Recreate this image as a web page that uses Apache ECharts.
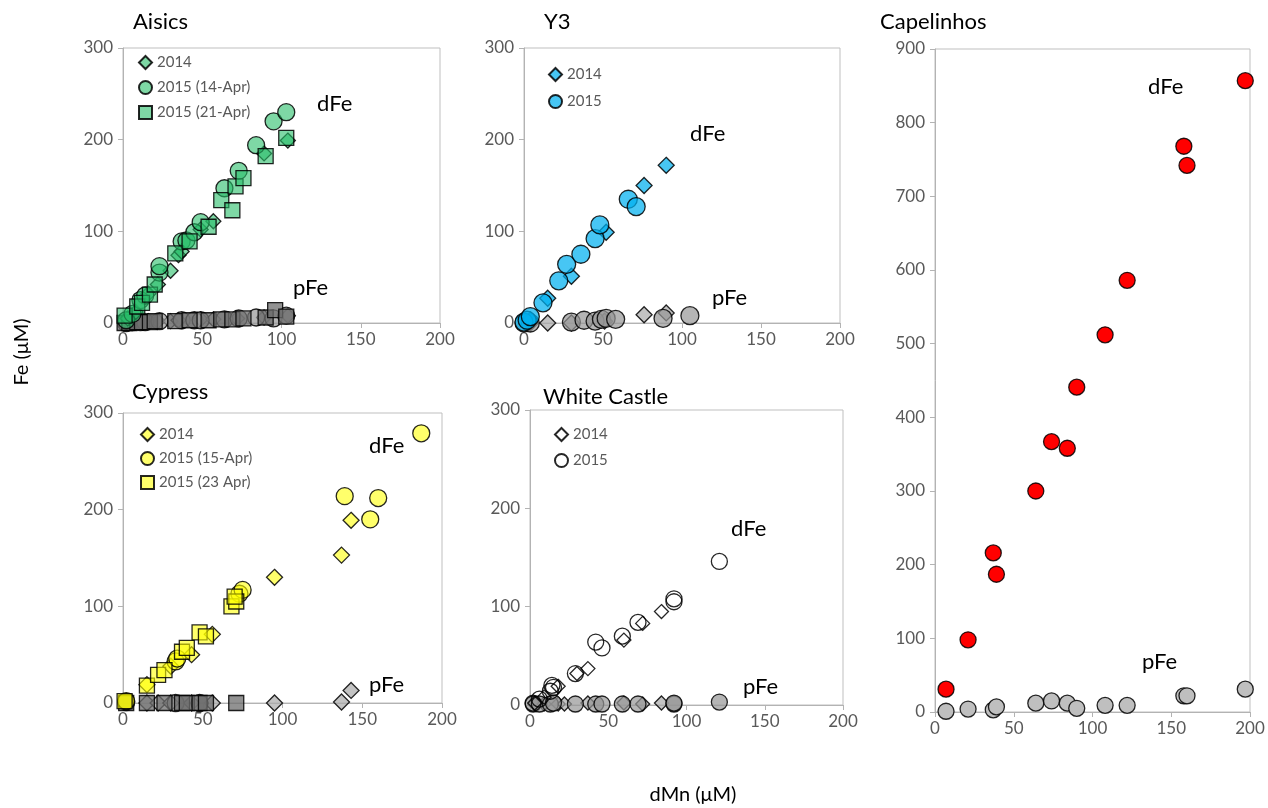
<!DOCTYPE html>
<html>
<head>
<meta charset="utf-8">
<script src="https://cdn.jsdelivr.net/npm/echarts@6/dist/echarts.min.js"></script>
<style>html,body{margin:0;background:#fff}#main{width:1268px;height:808px}</style>
</head>
<body>
<div id="main"></div>
<script>
// Aisics [dMn, Fe]
var aisDFe2014 = [[3,5],[8,12],[16,32],[22,42],[30,57],[35,74],[37,78],[49,102],[57,111],[89,185],[104,199]];
var aisDFe2015a = [[2,3],[6,10],[11,25],[14,30],[23,55],[23,62],[37,89],[40,90],[45,99],[49,110],[64,147],[73,166],[84,194],[95,220],[103,230]];
var aisDFe2015b = [[1,8],[9,18],[12,22],[17,31],[20,42],[33,76],[42,89],[54,105],[62,134],[69,123],[71,149],[76,158],[90,182],[103,202]];
var aisPFe2014 = [[3,1],[8,1],[16,2],[22,2],[30,2],[35,3],[49,4],[57,4],[72,5],[89,6],[104,8]];
var aisPFe2015a = [[2,0],[6,1],[11,1],[14,1],[23,2],[37,3],[45,3],[49,3],[64,4],[73,5],[84,6],[95,5],[103,8]];
var aisPFe2015b = [[1,0],[4,0],[9,1],[12,1],[17,1],[20,2],[33,2],[42,3],[54,3],[62,4],[69,4],[76,5],[90,6],[96,14],[103,7]];

// Y3
var y3DFe2014 = [[4,3],[15,27],[30,51],[52,99],[76,150],[90,172]];
var y3DFe2015 = [[0,1],[2,3],[4,7],[12,22],[22,46],[27,64],[36,75],[45,92],[48,107],[66,135],[71,127]];
var y3PFe2014 = [[4,0],[15,0],[30,0],[51,2],[76,9],[90,11]];
var y3PFe2015 = [[0,0],[4,0],[30,1],[38,3],[45,2],[49,4],[52,5],[58,4],[88,5],[105,8]];

// Cypress
var cypDFe2014 = [[15,19],[30,38],[43,50],[56,71],[95,130],[137,153],[143,189]];
var cypDFe2015a = [[2,2],[33,43],[34,46],[73,113],[75,117],[139,214],[155,190],[160,212],[187,279]];
var cypDFe2015b = [[1,2],[15,18],[22,29],[26,34],[37,53],[40,57],[48,73],[52,69],[68,100],[71,105],[70,110]];
var cypPFe2014 = [[15,0],[22,0],[30,0],[43,0],[56,0],[95,0],[137,1],[143,13]];
var cypPFe2015a = [[2,1],[33,0],[48,0]];
var cypPFe2015b = [[2,0],[15,0],[26,0],[37,0],[40,0],[48,0],[52,0],[71,0]];

// White Castle
var wcDFe2014 = [[3,2],[9,8],[18,19],[30,32],[37,37],[60,66],[72,83],[84,95]];
var wcDFe2015 = [[2,2],[6,6],[13,14],[14,20],[15,18],[29,32],[42,64],[46,58],[59,70],[69,84],[92,105],[92,108],[121,146]];
var wcPFe2014 = [[3,1],[9,1],[18,1],[22,1],[37,2],[60,2],[72,1],[84,2]];
var wcPFe2015 = [[2,1],[6,1],[13,1],[15,2],[29,1],[42,1],[46,1],[59,1],[69,1],[92,1],[92,2],[121,3]];

// Capelinhos
var capDMn = [7,21,37,39,64,74,84,90,108,122,158,160,197];
var capDFe = [31,98,216,187,300,367,358,441,512,586,768,742,857];
var capPFe = [1,4,3,7,12,15,12,5,9,9,22,22,31];

var panels = ['Aisics', 'Y3', 'Cypress', 'White Castle', 'Capelinhos'];
var yMax = [300, 300, 300, 300, 900];

var FONT = 'Lato, "Open Sans", sans-serif';
var grids = [
    { left: 123, top: 48, width: 317, height: 275 },
    { left: 524, top: 48, width: 316, height: 275 },
    { left: 123, top: 413, width: 319, height: 290 },
    { left: 530, top: 410, width: 313, height: 295 },
    { left: 935, top: 49, width: 315, height: 663 }
];

function pairs(xs, ys) {
    return xs.map(function (x, i) { return [x, ys[i]]; });
}

function pt(name, data, gi, symbol, size, fill, z) {
    return {
        name: name,
        type: 'scatter',
        xAxisIndex: gi,
        yAxisIndex: gi,
        symbol: symbol,
        symbolSize: size,
        data: data,
        z: z || 2,
        itemStyle: { color: fill, borderColor: 'rgba(0,0,0,0.85)', borderWidth: 1.3, opacity: 1 },
        emphasis: { disabled: true }
    };
}

var green = 'rgba(40,190,105,0.6)';
var blue = 'rgba(0,176,240,0.72)';
var yellow = 'rgba(255,255,0,0.58)';
var open = 'rgba(255,255,255,0)';
var red = '#ff0000';
var gLight = 'rgba(170,170,170,0.7)';
var gMid = 'rgba(150,150,150,0.7)';
var gDark = 'rgba(110,110,110,0.75)';

var series = [
    pt('A|2014', aisDFe2014, 0, 'diamond', 15, green, 3),
    pt('A|2015 (14-Apr)', aisDFe2015a, 0, 'circle', 17, green, 3),
    pt('A|2015 (21-Apr)', aisDFe2015b, 0, 'rect', 15, green, 3),
    pt('Ap2014', aisPFe2014, 0, 'diamond', 15, gLight),
    pt('Ap2015a', aisPFe2015a, 0, 'circle', 17, gMid),
    pt('Ap2015b', aisPFe2015b, 0, 'rect', 15, gDark),

    pt('Y|2014', y3DFe2014, 1, 'diamond', 16, blue, 3),
    pt('Y|2015', y3DFe2015, 1, 'circle', 18, blue, 3),
    pt('Yp2014', y3PFe2014, 1, 'diamond', 16, gLight),
    pt('Yp2015', y3PFe2015, 1, 'circle', 18, gMid),

    pt('C|2014', cypDFe2014, 2, 'diamond', 16, yellow, 3),
    pt('C|2015 (15-Apr)', cypDFe2015a, 2, 'circle', 17, yellow, 3),
    pt('C|2015 (23 Apr)', cypDFe2015b, 2, 'rect', 15, yellow, 3),
    pt('Cp2014', cypPFe2014, 2, 'diamond', 16, gLight),
    pt('Cp2015a', cypPFe2015a, 2, 'circle', 17, gMid),
    pt('Cp2015b', cypPFe2015b, 2, 'rect', 15, gDark),

    pt('W|2014', wcDFe2014, 3, 'diamond', 14, open, 3),
    pt('W|2015', wcDFe2015, 3, 'circle', 16, open, 3),
    pt('Wp2014', wcPFe2014, 3, 'diamond', 14, gLight),
    pt('Wp2015', wcPFe2015, 3, 'circle', 16, gMid),

    pt('Cap dFe', pairs(capDMn, capDFe), 4, 'circle', 16, red, 3),
    pt('Cap pFe', pairs(capDMn, capPFe), 4, 'circle', 16, '#bfbfbf')
];

var axisCol = '#b3b3b3';
var xAxes = [], yAxes = [];
for (var i = 0; i < 5; i++) {
    xAxes.push({
        type: 'value', gridIndex: i, min: 0, max: 200, interval: 50,
        splitLine: { show: false },
        axisLine: { show: true, onZero: false, lineStyle: { color: axisCol } },
        axisTick: { show: true, length: 5, lineStyle: { color: axisCol } },
        axisLabel: { color: '#595959', fontSize: 17, fontFamily: FONT, margin: 8 }
    });
    yAxes.push({
        type: 'value', gridIndex: i, min: 0, max: yMax[i], interval: 100,
        splitLine: { show: false },
        axisLine: { show: true, onZero: false, lineStyle: { color: axisCol } },
        axisTick: { show: true, length: 5, lineStyle: { color: axisCol } },
        axisLabel: { color: '#595959', fontSize: 17, fontFamily: FONT, margin: 10 }
    });
}

function leg(left, top, names, gap) {
    return {
        orient: 'vertical', left: left, top: top, itemGap: gap,
        itemWidth: 13, itemHeight: 13,
        textStyle: { color: '#595959', fontSize: 15, fontFamily: FONT },
        formatter: function (n) { return n.split('|')[1]; },
        selectedMode: false,
        data: names
    };
}

function txt(x, y, s, size) {
    return {
        type: 'text', x: x, y: y, z: 10,
        style: {
            text: s, font: size + 'px ' + FONT, fill: '#000',
            align: 'left', verticalAlign: 'middle',
            textAlign: 'left', textVerticalAlign: 'middle'
        }
    };
}

var graphic = [
    txt(133, 22, 'Aisics', 22),
    txt(544, 22, 'Y3', 22),
    txt(132, 392, 'Cypress', 22),
    txt(543, 397, 'White Castle', 22),
    txt(880, 22, 'Capelinhos', 22),
    txt(317, 104, 'dFe', 22), txt(293, 288, 'pFe', 22),
    txt(690, 134, 'dFe', 22), txt(712, 298, 'pFe', 22),
    txt(369, 446, 'dFe', 22), txt(369, 685, 'pFe', 22),
    txt(731, 529, 'dFe', 22), txt(743, 687, 'pFe', 22),
    txt(1148, 87, 'dFe', 22), txt(1142, 662, 'pFe', 22),
    {
        type: 'text', x: 22, y: 352, rotation: Math.PI / 2, z: 10,
        style: { text: 'Fe (μM)', font: '20px ' + FONT, fill: '#000',
            align: 'center', verticalAlign: 'middle', textAlign: 'center', textVerticalAlign: 'middle' }
    },
    {
        type: 'text', x: 693, y: 795, z: 10,
        style: { text: 'dMn (μM)', font: '20px ' + FONT, fill: '#000',
            align: 'center', verticalAlign: 'middle', textAlign: 'center', textVerticalAlign: 'middle' }
    }
];

var chart = echarts.init(document.getElementById('main'), null, { renderer: 'canvas' });
var option = {
    backgroundColor: '#fff',
    animation: false,
    grid: grids.map(function (g) {
        return { left: g.left, top: g.top, width: g.width, height: g.height, show: true,
            borderColor: '#bfbfbf', borderWidth: 1, backgroundColor: 'transparent' };
    }),
    xAxis: xAxes,
    yAxis: yAxes,
    legend: [
        leg(133, 50, [{ name: 'A|2014', icon: 'diamond' }, { name: 'A|2015 (14-Apr)', icon: 'circle' }, { name: 'A|2015 (21-Apr)', icon: 'rect' }], 10),
        leg(543, 62, [{ name: 'Y|2014', icon: 'diamond' }, { name: 'Y|2015', icon: 'circle' }], 12),
        leg(135, 422, [{ name: 'C|2014', icon: 'diamond' }, { name: 'C|2015 (15-Apr)', icon: 'circle' }, { name: 'C|2015 (23 Apr)', icon: 'rect' }], 9),
        leg(549, 422, [{ name: 'W|2014', icon: 'diamond' }, { name: 'W|2015', icon: 'circle' }], 11)
    ],
    graphic: graphic,
    series: series
};
chart.setOption(option);
</script>
</body>
</html>
